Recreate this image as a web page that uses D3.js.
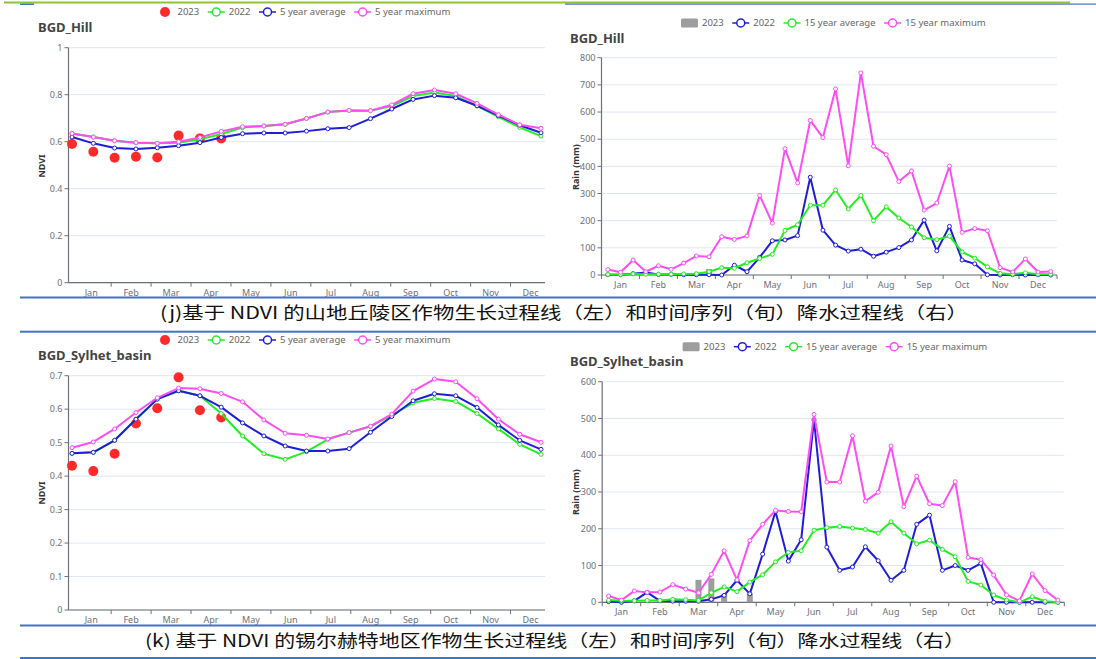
<!DOCTYPE html>
<html><head><meta charset="utf-8">
<script src="https://cdn.jsdelivr.net/npm/d3@7"></script>
<style>body{margin:0;background:#fff}svg{display:block}</style>
</head><body>
<svg id="c" width="1096" height="659"></svg>
<script>
// ---------------- data ----------------
const months = ["Jan","Feb","Mar","Apr","May","Jun","Jul","Aug","Sep","Oct","Nov","Dec"];
const ndviDays = [1,17,33,49,65,81,97,113,129,145,161,177,193,209,225,241,257,273,289,305,321,337,353];
const ndviLegend = ["2023","2022","5 year average","5 year maximum"];
const rainLegend = ["2023","2022","15 year average","15 year maximum"];
const hillNdviTicks = [0,0.2,0.4,0.6,0.8,1];
const sylNdviTicks = [0,0.1,0.2,0.3,0.4,0.5,0.6,0.7];
const hillRainTicks = [0,100,200,300,400,500,600,700,800];
const sylRainTicks = [0,100,200,300,400,500,600];

const hillNdvi2023 = [0.590,0.557,0.532,0.536,0.533,0.626,0.614,0.614];
const hillNdvi2022 = [0.635,0.620,0.604,0.596,0.593,0.596,0.610,0.633,0.660,0.667,0.674,0.699,0.726,0.733,0.732,0.752,0.794,0.809,0.794,0.752,0.706,0.661,0.624];
const hillNdviAvg5 = [0.620,0.593,0.573,0.569,0.574,0.583,0.596,0.618,0.634,0.637,0.637,0.645,0.655,0.660,0.698,0.739,0.780,0.796,0.787,0.753,0.711,0.670,0.638];
const hillNdviMax5 = [0.635,0.620,0.604,0.596,0.593,0.600,0.618,0.644,0.664,0.667,0.674,0.699,0.726,0.733,0.732,0.757,0.804,0.820,0.804,0.763,0.715,0.672,0.657];

const sylNdvi2023 = [0.431,0.415,0.467,0.557,0.603,0.695,0.597,0.575];
const sylNdvi2022 = [0.468,0.471,0.507,0.570,0.630,0.655,0.640,0.587,0.520,0.467,0.450,0.473,0.510,0.530,0.548,0.582,0.619,0.632,0.623,0.587,0.541,0.495,0.465];
const sylNdviAvg5 = [0.468,0.471,0.507,0.570,0.630,0.655,0.640,0.606,0.559,0.520,0.490,0.475,0.475,0.482,0.531,0.578,0.625,0.646,0.640,0.605,0.553,0.507,0.480];
const sylNdviMax5 = [0.485,0.502,0.541,0.590,0.634,0.663,0.661,0.647,0.622,0.568,0.528,0.522,0.511,0.530,0.549,0.585,0.654,0.690,0.682,0.631,0.570,0.525,0.501];

const hillRain2023 = [1,0,2,1,0,0,1,2,22];
const hillRain2022 = [1,1,5,9,2,2,1,1,1,0,36,12,65,126,129,145,360,165,110,88,95,69,84,101,129,202,89,179,55,41,1,0,1,0,1,0];
const hillRainAvg15 = [2,2,4,3,3,3,4,5,12,27,25,45,61,76,164,185,257,257,313,243,293,200,251,210,177,137,130,143,85,62,30,6,3,8,3,3];
const hillRainMax15 = [20,10,55,12,34,21,44,70,67,141,131,144,293,191,465,339,569,506,685,402,744,474,443,344,383,239,265,401,157,171,163,27,11,59,11,13];

const sylRain2023 = [0,0,0,0,0,0,0,61,65,22,0,24];
const sylRain2022 = [2,0,4,27,4,3,3,3,8,19,60,23,131,247,112,170,496,150,87,96,151,113,60,87,212,237,87,100,87,106,0,0,0,0,0,0];
const sylRainAvg15 = [6,4,4,5,5,8,7,5,26,42,29,55,75,110,136,140,196,203,206,202,198,188,219,188,159,169,144,124,57,47,20,6,0,15,3,0];
const sylRainMax15 = [17,6,31,27,28,48,36,26,76,140,61,168,212,250,247,246,511,327,327,453,275,299,425,260,343,268,263,328,122,116,74,20,4,77,32,6];

const captionJ = "(j)基于 NDVI 的山地丘陵区作物生长过程线（左）和时间序列（旬）降水过程线（右）";
const captionK = "(k) 基于 NDVI 的锡尔赫特地区作物生长过程线（左）和时间序列（旬）降水过程线（右）";

// ---------------- style ----------------
const AX = "#6E7079", GRID = "#E0E6F1", TXT = "#666";
const COL = {red:"#ff2b2b", green:"#22ee22", blue:"#1e1ed6", pink:"#ff4cf5", gray:"#9d9d9d"};
const FONT = "'Noto Sans','Open Sans',sans-serif";
const svg = d3.select("#c").style("font-family", FONT);

function legend(x0, y, items) {
  const g = svg.append("g");
  let x = x0;
  items.forEach(it => {
    if (it.type === "dot") {
      g.append("circle").attr("cx", x + 8.5).attr("cy", y).attr("r", 5).attr("fill", it.color);
    } else if (it.type === "bar") {
      g.append("rect").attr("x", x).attr("y", y - 4.5).attr("width", 17).attr("height", 9).attr("rx", 1.5).attr("fill", it.color);
    } else {
      g.append("line").attr("x1", x).attr("x2", x + 17).attr("y1", y).attr("y2", y).attr("stroke", it.color).attr("stroke-width", 1.5);
      g.append("circle").attr("cx", x + 8.5).attr("cy", y).attr("r", 4).attr("fill", "#fff").attr("stroke", it.color).attr("stroke-width", 1.5);
    }
    const t = g.append("text").attr("x", x + 21).attr("y", y).attr("dy", "0.35em")
      .attr("font-size", 9.5).attr("fill", TXT).text(it.label);
    x += 21 + t.node().getComputedTextLength() + 8.5;
  });
}

function yAxisName(x, y, label) {
  svg.append("text").attr("transform", `translate(${x},${y}) rotate(-90)`)
    .attr("text-anchor", "middle").attr("dy", "0.35em").attr("font-size", 9)
    .attr("font-weight", "bold").attr("fill", "#333").text(label);
}

function title(x, y, label) {
  svg.append("text").attr("x", x).attr("y", y).attr("dy", "0.35em")
    .attr("font-size", 13).attr("font-weight", "bold").attr("fill", "#444").text(label);
}

function frame(o, y, ticks, fmt) {
  const g = svg.append("g");
  ticks.forEach(t => {
    g.append("line").attr("x1", o.x0).attr("x2", o.gx1).attr("y1", y(t)).attr("y2", y(t))
      .attr("stroke", GRID).attr("stroke-width", 1);
    g.append("line").attr("x1", o.x0 - 4).attr("x2", o.x0).attr("y1", y(t)).attr("y2", y(t)).attr("stroke", AX);
    g.append("text").attr("x", o.x0 - 6).attr("y", y(t)).attr("dy", "0.35em").attr("text-anchor", "end")
      .attr("font-size", 9).attr("fill", AX).text(fmt(t));
  });
  g.append("line").attr("x1", o.x0).attr("x2", o.x0).attr("y1", y(ticks[0])).attr("y2", y(ticks[ticks.length-1]))
    .attr("stroke", AX).attr("stroke-width", 1.2);
  g.append("line").attr("x1", o.x0).attr("x2", o.gx1).attr("y1", y(0)).attr("y2", y(0))
    .attr("stroke", AX).attr("stroke-width", 1.2);
  const mb = d3.scaleBand().domain(months).range([o.mx0, o.mx1]);
  months.forEach((m, k) => {
    if (k >= o.tickFrom) {
      g.append("line").attr("x1", mb(m)).attr("x2", mb(m)).attr("y1", y(0)).attr("y2", y(0) + 4).attr("stroke", AX);
    }
    g.append("text").attr("x", mb(m) + mb.bandwidth()/2).attr("y", y(0) + 10).attr("dy", "0.35em")
      .attr("text-anchor", "middle").attr("font-size", 9).attr("fill", AX).text(m);
  });
  if (o.endTick) g.append("line").attr("x1", o.mx1).attr("x2", o.mx1).attr("y1", y(0)).attr("y2", y(0) + 4).attr("stroke", AX);
}

function series(xf, y, data, color) {
  const g = svg.append("g");
  g.append("path").datum(data).attr("fill", "none").attr("stroke", color).attr("stroke-width", 2)
    .attr("stroke-linejoin", "round")
    .attr("d", d3.line().x((d, i) => xf(i)).y(d => y(d)));
  g.selectAll("circle").data(data).join("circle")
    .attr("cx", (d, i) => xf(i)).attr("cy", d => y(d)).attr("r", 2)
    .attr("fill", "#fff").attr("stroke", color).attr("stroke-width", 1);
}

function drawNdvi(o) {
  const y = d3.scaleLinear().domain([0, o.ticks[o.ticks.length-1]]).range([o.y0, o.yTop]);
  frame({x0: 68.5, gx1: 545, mx0: 71.2, mx1: 550.5, tickFrom: 1, endTick: false}, y, o.ticks, d => String(+d.toFixed(1)));
  const xs = d3.scaleLinear().domain([ndviDays[0], ndviDays[ndviDays.length-1]]).range([72, 541]);
  const xf = i => xs(ndviDays[i]);
  svg.append("g").selectAll("circle").data(o.s2023).join("circle")
    .attr("cx", (d, i) => xf(i)).attr("cy", d => y(d)).attr("r", 5).attr("fill", COL.red);
  series(xf, y, o.s2022, COL.green);
  series(xf, y, o.avg, COL.blue);
  series(xf, y, o.max, COL.pink);
  title(38, o.titleY, o.title);
  yAxisName(41.5, o.nameY, "NDVI");
  legend(156.5, o.legY, [
    {type: "dot", color: COL.red, label: ndviLegend[0]},
    {type: "line", color: COL.green, label: ndviLegend[1]},
    {type: "line", color: COL.blue, label: ndviLegend[2]},
    {type: "line", color: COL.pink, label: ndviLegend[3]}
  ]);
}

function drawRain(o) {
  const y = d3.scaleLinear().domain([0, o.ticks[o.ticks.length-1]]).range([o.y0, o.yTop]);
  frame({x0: o.x0, gx1: o.x1, mx0: o.x0, mx1: o.x1, tickFrom: 0, endTick: true}, y, o.ticks, d => String(d));
  const dekads = months.flatMap(m => [m + "1", m + "2", m + "3"]);
  const xb = d3.scaleBand().domain(dekads).range([o.x0, o.x1]);
  const xf = i => xb(dekads[i]) + xb.bandwidth()/2;
  svg.append("g").selectAll("rect").data(o.s2023).join("rect")
    .attr("x", (d, i) => xf(i) - 3).attr("width", 6)
    .attr("y", d => y(d)).attr("height", d => y(0) - y(d)).attr("fill", COL.gray);
  series(xf, y, o.s2022, COL.blue);
  series(xf, y, o.avg, COL.green);
  series(xf, y, o.max, COL.pink);
  title(570, o.titleY, o.title);
  yAxisName(576, o.nameY, "Rain (mm)");
  legend(o.legX, o.legY, [
    {type: "bar", color: COL.gray, label: rainLegend[0]},
    {type: "line", color: COL.blue, label: rainLegend[1]},
    {type: "line", color: COL.green, label: rainLegend[2]},
    {type: "line", color: COL.pink, label: rainLegend[3]}
  ]);
}

// ---------------- separators & captions ----------------
svg.append("rect").attr("x", 4).attr("y", 1.5).attr("width", 1066).attr("height", 2).attr("fill", "#8fc436");
svg.append("rect").attr("x", 20).attr("y", 3.5).attr("width", 14).attr("height", 1.5).attr("fill", "#4472c4");
svg.append("rect").attr("x", 565).attr("y", 3.5).attr("width", 531).attr("height", 1.2).attr("fill", "#4472c4");
[297.5, 331.7, 625.5, 658].forEach(yy => {
  svg.append("rect").attr("x", 20).attr("y", yy - 1).attr("width", 1076).attr("height", 2).attr("fill", "#4472c4");
});
svg.append("text").attr("x", 160).attr("y", 313).attr("dy", "0.36em").attr("font-size", 17)
  .attr("font-family", "'Noto Sans CJK SC',sans-serif").attr("fill", "#111")
  .attr("textLength", 808).attr("lengthAdjust", "spacingAndGlyphs").text(captionJ);
svg.append("text").attr("x", 145).attr("y", 641).attr("dy", "0.36em").attr("font-size", 17)
  .attr("font-family", "'Noto Sans CJK SC',sans-serif").attr("fill", "#111")
  .attr("textLength", 820).attr("lengthAdjust", "spacingAndGlyphs").text(captionK);

// ---------------- charts ----------------
drawNdvi({title: "BGD_Hill", titleY: 27, nameY: 166, legY: 12, y0: 282.7, yTop: 47.7,
  ticks: hillNdviTicks, s2023: hillNdvi2023, s2022: hillNdvi2022, avg: hillNdviAvg5, max: hillNdviMax5});
drawNdvi({title: "BGD_Sylhet_basin", titleY: 355, nameY: 493, legY: 340, y0: 610, yTop: 375.7,
  ticks: sylNdviTicks, s2023: sylNdvi2023, s2022: sylNdvi2022, avg: sylNdviAvg5, max: sylNdviMax5});
drawRain({title: "BGD_Hill", titleY: 38, nameY: 167, legX: 681, legY: 23, x0: 601.5, x1: 1057, y0: 275, yTop: 57.7,
  ticks: hillRainTicks, s2023: hillRain2023, s2022: hillRain2022, avg: hillRainAvg15, max: hillRainMax15});
drawRain({title: "BGD_Sylhet_basin", titleY: 361.7, nameY: 492, legX: 682.6, legY: 346.7, x0: 602.2, x1: 1064.3, y0: 602.3, yTop: 381.7,
  ticks: sylRainTicks, s2023: sylRain2023, s2022: sylRain2022, avg: sylRainAvg15, max: sylRainMax15});
</script>
</body></html>
